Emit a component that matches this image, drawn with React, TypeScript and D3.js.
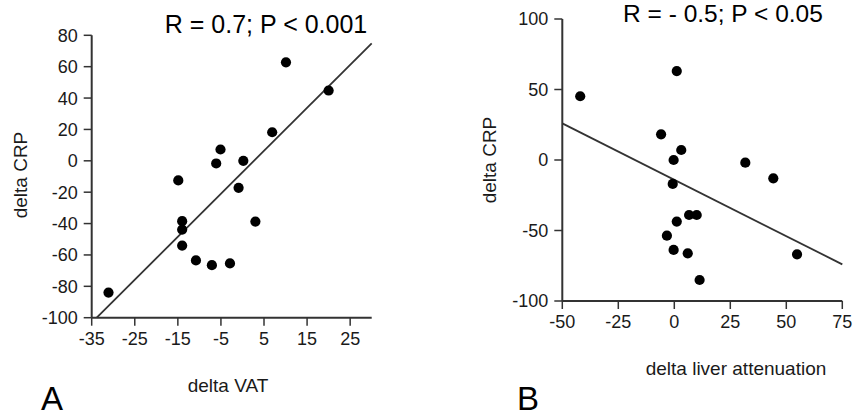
import React from "react";
import * as d3 from "d3";

// Panel A data: delta VAT vs delta CRP
const vatA = [-31.1, -14.9, -14.0, -14.0, -14.0, -10.8, -7.1, -6.1, -5.1, -2.9, -0.9, 0.2, 3.0, 6.9, 10.1, 20.0];
const crpA = [-84, -12.5, -38.5, -43.8, -54, -63.5, -66.5, -1.7, 7.2, -65.4, -17.2, 0, -38.7, 18.2, 62.8, 44.8];
const xTicksA = [-35, -25, -15, -5, 5, 15, 25];
const yTicksA = [-100, -80, -60, -40, -20, 0, 20, 40, 60, 80];
const fitA = { slope: 2.74, intercept: -7.3 };

// Panel B data: delta liver attenuation vs delta CRP
const liverB = [-42.0, 1.1, -5.9, 3.1, -0.3, 31.7, 44.2, -0.7, 6.6, 10.0, 1.1, -3.3, -0.3, 6.0, 54.8, 11.3];
const crpB = [45.2, 63.1, 18.2, 7.1, 0, -1.9, -13, -17, -39, -39, -43.7, -53.7, -63.8, -66.2, -66.9, -85.1];
const xTicksB = [-50, -25, 0, 25, 50, 75];
const yTicksB = [-100, -50, 0, 50, 100];
const fitB = { slope: -0.8, intercept: -14 };

const FONT = "'Liberation Sans', Arial, Helvetica, sans-serif";
const TEXT = "#1a1a1a";
const LINE = "#333";

type PanelProps = {
  xs: number[];
  ys: number[];
  xDomain: [number, number];
  yDomain: [number, number];
  xRange: [number, number];
  yRange: [number, number];
  xTicks: number[];
  yTicks: number[];
  fit: { slope: number; intercept: number };
  title: string;
  titleX: number;
  titleY: number;
  titleSize: number;
  xLabel: string;
  xLabelX: number;
  xLabelY: number;
  yLabel: string;
  yLabelX: number;
  yLabelY: number;
  letter: string;
  letterX: number;
};

function Panel(p: PanelProps) {
  const x = d3.scaleLinear().domain(p.xDomain).range(p.xRange);
  const y = d3.scaleLinear().domain(p.yDomain).range(p.yRange);
  const x0 = p.xRange[0];
  const y0 = p.yRange[0];
  const [xmin, xmax] = p.xDomain;
  const [ymin, ymax] = p.yDomain;
  const f = (v: number) => p.fit.slope * v + p.fit.intercept;
  const inv = (v: number) => (v - p.fit.intercept) / p.fit.slope;
  const cands = [inv(ymin), inv(ymax)].sort((a, b) => a - b);
  const xa = Math.max(xmin, cands[0]);
  const xb = Math.min(xmax, cands[1]);
  const lineGen = d3
    .line<number>()
    .x((d) => x(d))
    .y((d) => y(f(d)));
  const tick = 8;
  return (
    <g>
      <line x1={x0} x2={p.xRange[1]} y1={y0} y2={y0} stroke={LINE} strokeWidth={2} />
      <line x1={x0} x2={x0} y1={y0} y2={p.yRange[1]} stroke={LINE} strokeWidth={2} />
      {p.xTicks.map((t) => (
        <g key={"xt" + t}>
          <line x1={x(t)} x2={x(t)} y1={y0} y2={y0 + tick} stroke={LINE} strokeWidth={1.5} />
          <text x={x(t)} y={y0 + 27} textAnchor="middle" fontSize={18} fill={TEXT} fontFamily={FONT}>
            {t}
          </text>
        </g>
      ))}
      {p.yTicks.map((t) => (
        <g key={"yt" + t}>
          <line x1={x0 - tick} x2={x0} y1={y(t)} y2={y(t)} stroke={LINE} strokeWidth={1.5} />
          <text x={x0 - 14} y={y(t)} dy="0.36em" textAnchor="end" fontSize={18} fill={TEXT} fontFamily={FONT}>
            {t}
          </text>
        </g>
      ))}
      <path d={lineGen([xa, xb]) || ""} fill="none" stroke={LINE} strokeWidth={1.8} />
      {p.xs.map((v, i) => (
        <circle key={"pt" + i} cx={x(v)} cy={y(p.ys[i])} r={5.1} fill="#000" />
      ))}
      <text x={p.titleX} y={p.titleY} textAnchor="middle" fontSize={p.titleSize} fill="#000" fontFamily={FONT}>
        {p.title}
      </text>
      <text x={p.xLabelX} y={p.xLabelY} textAnchor="middle" fontSize={19} fill={TEXT} fontFamily={FONT}>
        {p.xLabel}
      </text>
      <text
        transform={`translate(${p.yLabelX},${p.yLabelY}) rotate(-90)`}
        textAnchor="middle"
        fontSize={19}
        fill={TEXT}
        fontFamily={FONT}
      >
        {p.yLabel}
      </text>
      <text x={p.letterX} y={410} fontSize={33} fill="#000" fontFamily={FONT}>
        {p.letter}
      </text>
    </g>
  );
}

export default function App() {
  return (
    <svg
      width={854}
      height={416}
      style={{ position: "absolute", left: 0, top: 0, background: "#fff" }}
    >
      <rect width={854} height={416} fill="#fff" />
      <Panel
        xs={vatA}
        ys={crpA}
        xDomain={[-35, 30]}
        yDomain={[-100, 80]}
        xRange={[91.7, 371.7]}
        yRange={[317.7, 35.3]}
        xTicks={xTicksA}
        yTicks={yTicksA}
        fit={fitA}
        title="R = 0.7; P < 0.001"
        titleX={266}
        titleY={33}
        titleSize={25}
        xLabel="delta VAT"
        xLabelX={228}
        xLabelY={392}
        yLabel="delta CRP"
        yLabelX={26.5}
        yLabelY={175}
        letter="A"
        letterX={41}
      />
      <Panel
        xs={liverB}
        ys={crpB}
        xDomain={[-50, 75]}
        yDomain={[-100, 100]}
        xRange={[562.3, 842.3]}
        yRange={[301, 19]}
        xTicks={xTicksB}
        yTicks={yTicksB}
        fit={fitB}
        title="R = - 0.5; P < 0.05"
        titleX={723}
        titleY={22}
        titleSize={24.5}
        xLabel="delta liver attenuation"
        xLabelX={736}
        xLabelY={375}
        yLabel="delta CRP"
        yLabelX={496}
        yLabelY={160}
        letter="B"
        letterX={517}
      />
    </svg>
  );
}
